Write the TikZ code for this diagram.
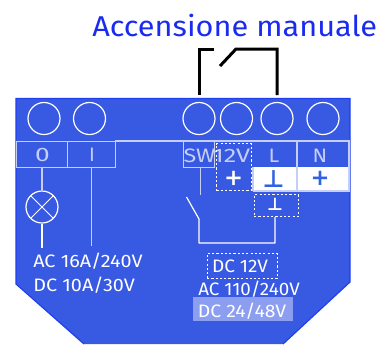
\documentclass[tikz,border=0pt]{standalone}
\usepackage{fontspec}
\setmainfont{Fira Sans}
\newfontfamily\symfont{DejaVu Sans}
\definecolor{board}{HTML}{3859E2}
\definecolor{edge}{HTML}{2040F0}
\definecolor{pale}{HTML}{C5CEF5}
\definecolor{hl}{HTML}{8B9EF0}
\definecolor{titleblue}{HTML}{1A2BF0}
\definecolor{symblue}{HTML}{2F62E4}
\tikzset{
  x=0.75pt,y=-0.75pt,
  terminal/.style={circle,draw=white,line width=0.9pt,minimum size=24pt,inner sep=0pt},
  lampnode/.style={circle,draw=white,line width=0.9pt,minimum size=24pt,inner sep=0pt,path picture={
    \draw[white,line width=0.75pt] (path picture bounding box.north west)--(path picture bounding box.south east)
    (path picture bounding box.north east)--(path picture bounding box.south west);}},
  cell/.style={draw=pale,line width=0.9pt,inner sep=0pt,anchor=north west},
  wire/.style={pale,line width=0.9pt},
  whitewire/.style={white,line width=0.9pt},
  dots/.style={draw=white,line width=0.9pt,dash pattern=on 1.6pt off 1.6pt,inner sep=0pt},
  label/.style={text=white,font=\fontsize{13.5}{13.5}\selectfont,inner sep=0pt,anchor=base west,xscale=1.1},
  celltext/.style={text=pale,font=\fontsize{14.6}{14.6}\selectfont,inner sep=0pt,anchor=base},
  sym/.style={font=\symfont\bfseries\fontsize{15}{15}\selectfont,inner sep=0pt},
  manual/.style={black,line width=2.25pt},
}
\begin{document}
\begin{tikzpicture}
\useasboundingbox (0,0) rectangle (381,344);
% board
\fill[board] (16,98.5) -- (350,98.5) -- (350,282) -- (283,344) -- (84,344) -- (16,284) -- cycle;
\draw[edge,line width=0.9pt] (84,344) -- (16,284) -- (16,98.5) -- (350,98.5) -- (350,282) -- (283,344);
% white cells
\fill[white] (253,167) rectangle (349,191);
% terminals
\node[terminal] (t1) at (44,118.5) {};
\node[terminal] (t2) at (89.5,118.5) {};
\node[terminal] (t3) at (199,118.5) {};
\node[terminal] (t4) at (236.5,118.5) {};
\node[terminal] (t5) at (277,118.5) {};
\node[terminal] (t6) at (323,118.5) {};
% label row
\draw[wire] (115,141) -- (350,141);
\draw[wire] (253,191) -- (349,191) -- (349,141);
\draw[wire] (297,141) -- (297,191);
\draw[wire] (253,167) -- (253,191);
\node[cell,minimum width=38.25pt,minimum height=19.5pt] (cO) at (16,141) {};
\node[cell,minimum width=36pt,minimum height=19.5pt] (cI) at (67,141) {};
\node[cell,minimum width=23.25pt,minimum height=19.5pt] (cSW) at (183,141) {};
\node[celltext,xscale=1.35] at (42.5,161) {0};
\node[celltext] at (92,161) {I};
\node[celltext,xscale=1.2] at (199.5,162.5) {SW};
\node[celltext,xscale=1.3] at (231.5,162.5) {12V};
\node[celltext,xscale=1.1] at (274,162.5) {L};
\node[celltext,xscale=1.1] at (320,162.5) {N};
% dotted boxes
\node[dots,anchor=north west,minimum width=26.25pt,minimum height=35.25pt] (b12) at (216,143) {};
\node[dots,anchor=north west,minimum width=33pt,minimum height=16.5pt] (bgnd) at (253.5,194) {};
\node[sym,text=white,font=\symfont\bfseries\fontsize{17}{17}\selectfont] at (233.7,178) {+};
\node[sym,text=symblue,font=\symfont\bfseries\fontsize{18}{18}\selectfont] at (273.7,179) {⊥};
\node[sym,text=symblue,font=\symfont\bfseries\fontsize{17}{17}\selectfont] at (320,178) {+};
\node[sym,text=white,font=\symfont\bfseries\fontsize{13}{13}\selectfont] at (275,204) {⊥};
% lamp
\node[lampnode] (lamp) at (42,207) {};
\coordinate (lampend) at (42,248);
\coordinate (iend) at (91.5,246);
\draw[wire] (cO.south -| lamp) -- (lamp.north);
\draw[whitewire] (lamp.south) -- (lampend);
\draw[wire] (cI.south -| iend) -- (iend);
% switch
\coordinate (swend) at (200.5,195);
\coordinate (swa) at (186.5,197);
\coordinate (swb) at (199,219);
\coordinate (swc) at (199,243);
\coordinate (swd) at (275,243);
\draw[wire] (cSW.south -| swend) -- (swend);
\draw[whitewire,line join=round] (swa) -- (swb) -- (swc) -- (swd) -- (bgnd.south -| swd);
% manual switch
\coordinate (ma) at (214,49);
\coordinate (mb) at (199,49);
\coordinate (mc) at (220,66);
\coordinate (md) at (236,49);
\coordinate (me) at (277,49);
\draw[manual] (t3.north |- 0,95) -- (mb) -- (ma);
\draw[manual] (mc) -- (md) -- (me) -- (t5.north |- 0,95);
% texts
\node[text=titleblue,font=\fontsize{21.5}{21.5}\selectfont,inner sep=0pt,anchor=base west,xscale=1.07] (title) at (92,36.5) {Accensione manuale};
\node[label] (l1) at (33,267) {AC 16A/240V};
\node[label] (l2) at (33,291) {DC 10A/30V};
\node[dots,anchor=north west,minimum width=52.5pt,minimum height=18.75pt] (bdc) at (206.5,253) {};
\node[label,anchor=base,xscale=.96] (l3) at (240,272) {DC 12V};
\node[label,anchor=base,xscale=.95] (l4) at (249,295) {AC 110/240V};
\fill[hl] (193,297) rectangle (293,321);
\node[label,anchor=base,xscale=.98] (l5) at (242,317) {DC 24/48V};
\end{tikzpicture}
\end{document}
